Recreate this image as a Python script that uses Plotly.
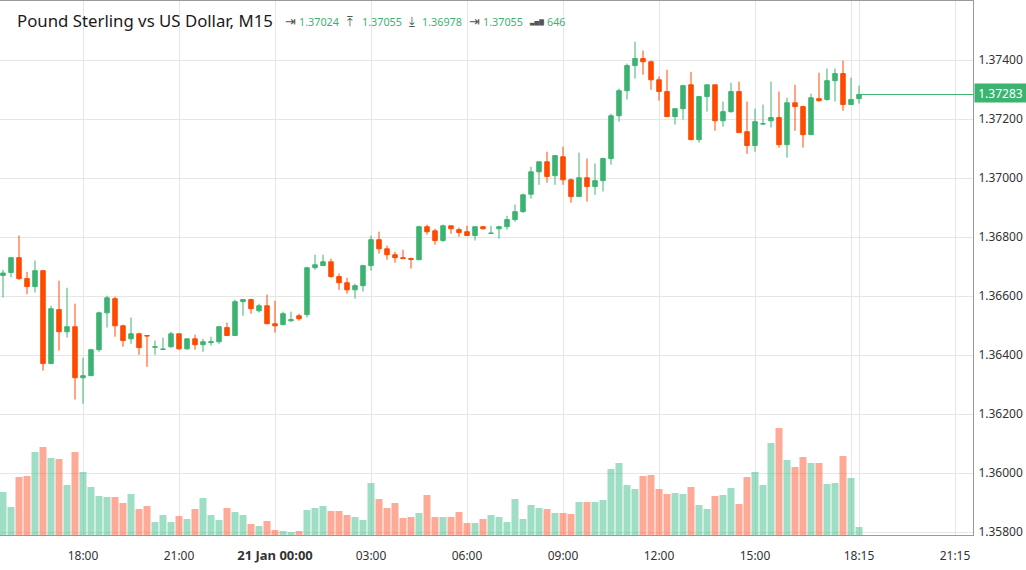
import plotly.graph_objects as go

opens = [1.36670,1.36680,1.36730,1.36659,1.36632,1.36686,1.36371,1.36554,1.36479,1.36496,
1.36323,1.36330,1.36418,1.36543,1.36591,1.36499,1.36455,1.36472,1.36466,1.36426,
1.36419,1.36428,1.36472,1.36421,1.36455,1.36435,1.36442,1.36445,1.36493,1.36466,
1.36581,1.36588,1.36550,1.36567,1.36506,1.36503,1.36516,1.36533,1.36537,1.36696,
1.36703,1.36716,1.36666,1.36645,1.36621,1.36635,1.36703,1.36791,1.36760,1.36740,
1.36730,1.36727,1.36723,1.36835,1.36821,1.36788,1.36838,1.36825,1.36818,1.36805,
1.36835,1.36812,1.36828,1.36835,1.36859,1.36886,1.36945,1.37021,1.37055,1.37008,
1.37072,1.36994,1.36937,1.37001,1.36971,1.36991,1.37066,1.37211,1.37296,1.37381,
1.37405,1.37394,1.37333,1.37293,1.37208,1.37235,1.37316,1.37130,1.37276,1.37316,
1.37194,1.37225,1.37293,1.37157,1.37110,1.37183,1.37194,1.37205,1.37113,1.37255,
1.37242,1.37147,1.37269,1.37266,1.37330,1.37354,1.37249,1.37269]
closes = [1.36678,1.36730,1.36659,1.36632,1.36686,1.36371,1.36557,1.36479,1.36496,1.36323,
1.36330,1.36418,1.36543,1.36594,1.36499,1.36449,1.36472,1.36425,1.36465,1.36428,
1.36420,1.36472,1.36421,1.36455,1.36435,1.36445,1.36445,1.36496,1.36466,1.36581,
1.36588,1.36557,1.36567,1.36506,1.36499,1.36540,1.36520,1.36523,1.36696,1.36706,
1.36716,1.36666,1.36645,1.36621,1.36635,1.36703,1.36791,1.36760,1.36740,1.36730,
1.36727,1.36724,1.36835,1.36818,1.36788,1.36838,1.36828,1.36815,1.36805,1.36835,
1.36828,1.36813,1.36835,1.36859,1.36886,1.36943,1.37021,1.37055,1.37005,1.37076,
1.36994,1.36937,1.37001,1.36971,1.36991,1.37066,1.37211,1.37296,1.37381,1.37405,
1.37394,1.37333,1.37293,1.37208,1.37235,1.37313,1.37130,1.37276,1.37316,1.37194,
1.37225,1.37293,1.37154,1.37110,1.37191,1.37184,1.37205,1.37113,1.37255,1.37242,
1.37147,1.37272,1.37262,1.37330,1.37354,1.37249,1.37266,1.37283]
highs = [1.36689,1.36730,1.36805,1.36682,1.36720,1.36686,1.36567,1.36652,1.36628,1.36574,
1.36391,1.36421,1.36547,1.36601,1.36598,1.36503,1.36527,1.36476,1.36466,1.36449,
1.36459,1.36479,1.36472,1.36455,1.36469,1.36455,1.36462,1.36496,1.36510,1.36588,
1.36588,1.36591,1.36574,1.36605,1.36584,1.36547,1.36547,1.36540,1.36699,1.36740,
1.36740,1.36727,1.36676,1.36662,1.36642,1.36706,1.36805,1.36818,1.36771,1.36750,
1.36757,1.36730,1.36838,1.36842,1.36828,1.36842,1.36838,1.36832,1.36838,1.36835,
1.36838,1.36838,1.36838,1.36872,1.36910,1.36947,1.37038,1.37055,1.37089,1.37076,
1.37106,1.36998,1.37086,1.37066,1.37049,1.37069,1.37218,1.37303,1.37388,1.37462,
1.37432,1.37398,1.37344,1.37367,1.37235,1.37316,1.37360,1.37276,1.37316,1.37316,
1.37259,1.37323,1.37327,1.37259,1.37235,1.37249,1.37327,1.37293,1.37272,1.37316,
1.37245,1.37286,1.37357,1.37371,1.37371,1.37398,1.37340,1.37313]
lows = [1.36595,1.36663,1.36655,1.36606,1.36612,1.36347,1.36371,1.36415,1.36459,1.36249,
1.36235,1.36330,1.36411,1.36493,1.36462,1.36428,1.36438,1.36401,1.36360,1.36401,
1.36418,1.36425,1.36418,1.36418,1.36418,1.36411,1.36432,1.36438,1.36466,1.36466,
1.36533,1.36540,1.36544,1.36506,1.36476,1.36503,1.36513,1.36516,1.36527,1.36689,
1.36703,1.36662,1.36621,1.36608,1.36591,1.36615,1.36686,1.36744,1.36723,1.36713,
1.36727,1.36693,1.36723,1.36808,1.36774,1.36784,1.36811,1.36801,1.36805,1.36788,
1.36825,1.36811,1.36794,1.36825,1.36852,1.36882,1.36930,1.36977,1.36984,1.36977,
1.36977,1.36916,1.36937,1.36920,1.36943,1.36954,1.37045,1.37191,1.37266,1.37337,
1.37350,1.37299,1.37262,1.37208,1.37181,1.37198,1.37130,1.37120,1.37225,1.37160,
1.37174,1.37221,1.37154,1.37082,1.37089,1.37181,1.37171,1.37103,1.37069,1.37160,
1.37103,1.37147,1.37259,1.37262,1.37259,1.37228,1.37249,1.37252]
# volume in arbitrary units (the volume axis is not shown)
volumes = [129,84,174,177,249,264,231,228,150,249,
189,144,117,114,114,96,123,78,87,39,
60,39,57,48,78,111,60,45,81,69,
60,33,27,42,15,12,9,12,75,81,
87,72,72,60,54,45,156,108,81,96,
51,54,66,120,54,54,54,69,36,36,
48,60,54,39,108,48,90,81,78,66,
66,63,99,99,99,105,198,216,150,138,
177,180,138,123,126,123,144,90,78,117,
120,141,93,174,189,150,276,321,225,204,
234,216,216,153,156,237,171,24]
x_index = list(range(len(opens)))
tick_index = [10,22,34,46,58,70,82,94,106,107,119]
tick_labels = ["18:00","21:00","<b><span style='font-size:13px'>21 Jan 00:00</span></b>","03:00","06:00","09:00","12:00","15:00","","18:15","21:15"]
price_ticks = [1.358,1.360,1.362,1.364,1.366,1.368,1.370,1.372,1.374]
title_text = "Pound Sterling vs US Dollar, M15"
last_price = closes[-1]

GREEN = "#3CB371"
RED = "#FF4A00"
V_GREEN = "rgba(62,190,140,0.5)"
V_RED = "rgba(255,85,45,0.5)"
GRID = "#E6E6E6"
AXIS = "#9A9A9A"
FONT = "Noto Sans"
ICON = "DejaVu Sans"

W, H = 1026, 570
L, R, T, B = 0, 53, 1, 35
pw, ph = W - L - R, H - T - B
def px(x): return (x - L) / pw
def py(y): return 1 - (y - T) / ph

vol_colors = [V_GREEN if c >= o else V_RED for o, c in zip(opens, closes)]

fig = go.Figure()
fig.add_trace(go.Bar(x=x_index, y=volumes, marker=dict(color=vol_colors, line_width=0),
                     yaxis="y2", showlegend=False, hoverinfo="skip"))
fig.add_trace(go.Candlestick(x=x_index, open=opens, high=highs, low=lows, close=closes,
    increasing=dict(line=dict(color=GREEN, width=1), fillcolor=GREEN),
    decreasing=dict(line=dict(color=RED, width=1), fillcolor=RED),
    whiskerwidth=0, showlegend=False))
fig.add_trace(go.Scatter(x=[x_index[-1], 130], y=[last_price, last_price], mode="lines",
                         line=dict(color=GREEN, width=1), showlegend=False, hoverinfo="skip"))

anns = [dict(text=title_text, x=px(16), y=py(21), size=16.8, color="#1a1a1a", fam=FONT)]
for t, x0, c, s, f in [("⇥",284,"#555",13,ICON),("1.37024",298,GREEN,10.8,FONT),("⤒",346,"#555",13,ICON),("1.37055",361,GREEN,10.8,FONT),
                 ("⤓",408,"#555",13,ICON),("1.36978",421,GREEN,10.8,FONT),("⇥",468,"#555",13,ICON),("1.37055",482,GREEN,10.8,FONT),
                 ("▃▅▇",528,"#555",6,ICON),("646",546,GREEN,10.8,FONT)]:
    anns.append(dict(text=t, x=px(x0), y=py(22), size=s, color=c, fam=f))
annotations = [dict(text=a["text"], x=a["x"], y=a["y"], xref="paper", yref="paper", xanchor="left", yanchor="middle",
                    showarrow=False, borderpad=0, font=dict(family=a["fam"], size=a["size"], color=a["color"])) for a in anns]
annotations.append(dict(text="1.37283", x=px(974), y=py(93), xref="paper", yref="paper", xanchor="left", yanchor="middle",
                        showarrow=False, bgcolor=GREEN, borderpad=0, width=51, height=18, align="center",
                        font=dict(family=FONT, size=12, color="white")))

fig.update_layout(
    width=W, height=H, margin=dict(l=L, r=R, t=T, b=B),
    paper_bgcolor="white", plot_bgcolor="white", bargap=0.125, boxgap=0.2, showlegend=False,
    font=dict(family=FONT, size=12, color="#333333"),
    annotations=annotations,
    xaxis=dict(range=[-0.375, 121.25], tickmode="array", tickvals=tick_index, ticktext=tick_labels,
               showgrid=True, gridcolor=GRID, gridwidth=1, ticks="", ticklabelstandoff=10, zeroline=False,
               showline=True, linecolor=AXIS, linewidth=1, mirror=True, rangeslider=dict(visible=False),
               tickfont=dict(family=FONT, size=12, color="#333333")),
    yaxis=dict(range=[1.3579, 1.3760], side="right", tickmode="array", tickvals=price_ticks, tickformat=".5f",
               showgrid=True, gridcolor=GRID, gridwidth=1, ticks="", zeroline=False,
               showline=True, linecolor=AXIS, linewidth=1, ticklabelstandoff=2,
               tickfont=dict(family=FONT, size=12, color="#333333")),
    yaxis2=dict(range=[0, 1602], overlaying="y", side="left", visible=False, showgrid=False),
)
fig.write_html("out.html", config=dict(displayModeBar=False),
               post_script="document.body.style.margin='0';")
